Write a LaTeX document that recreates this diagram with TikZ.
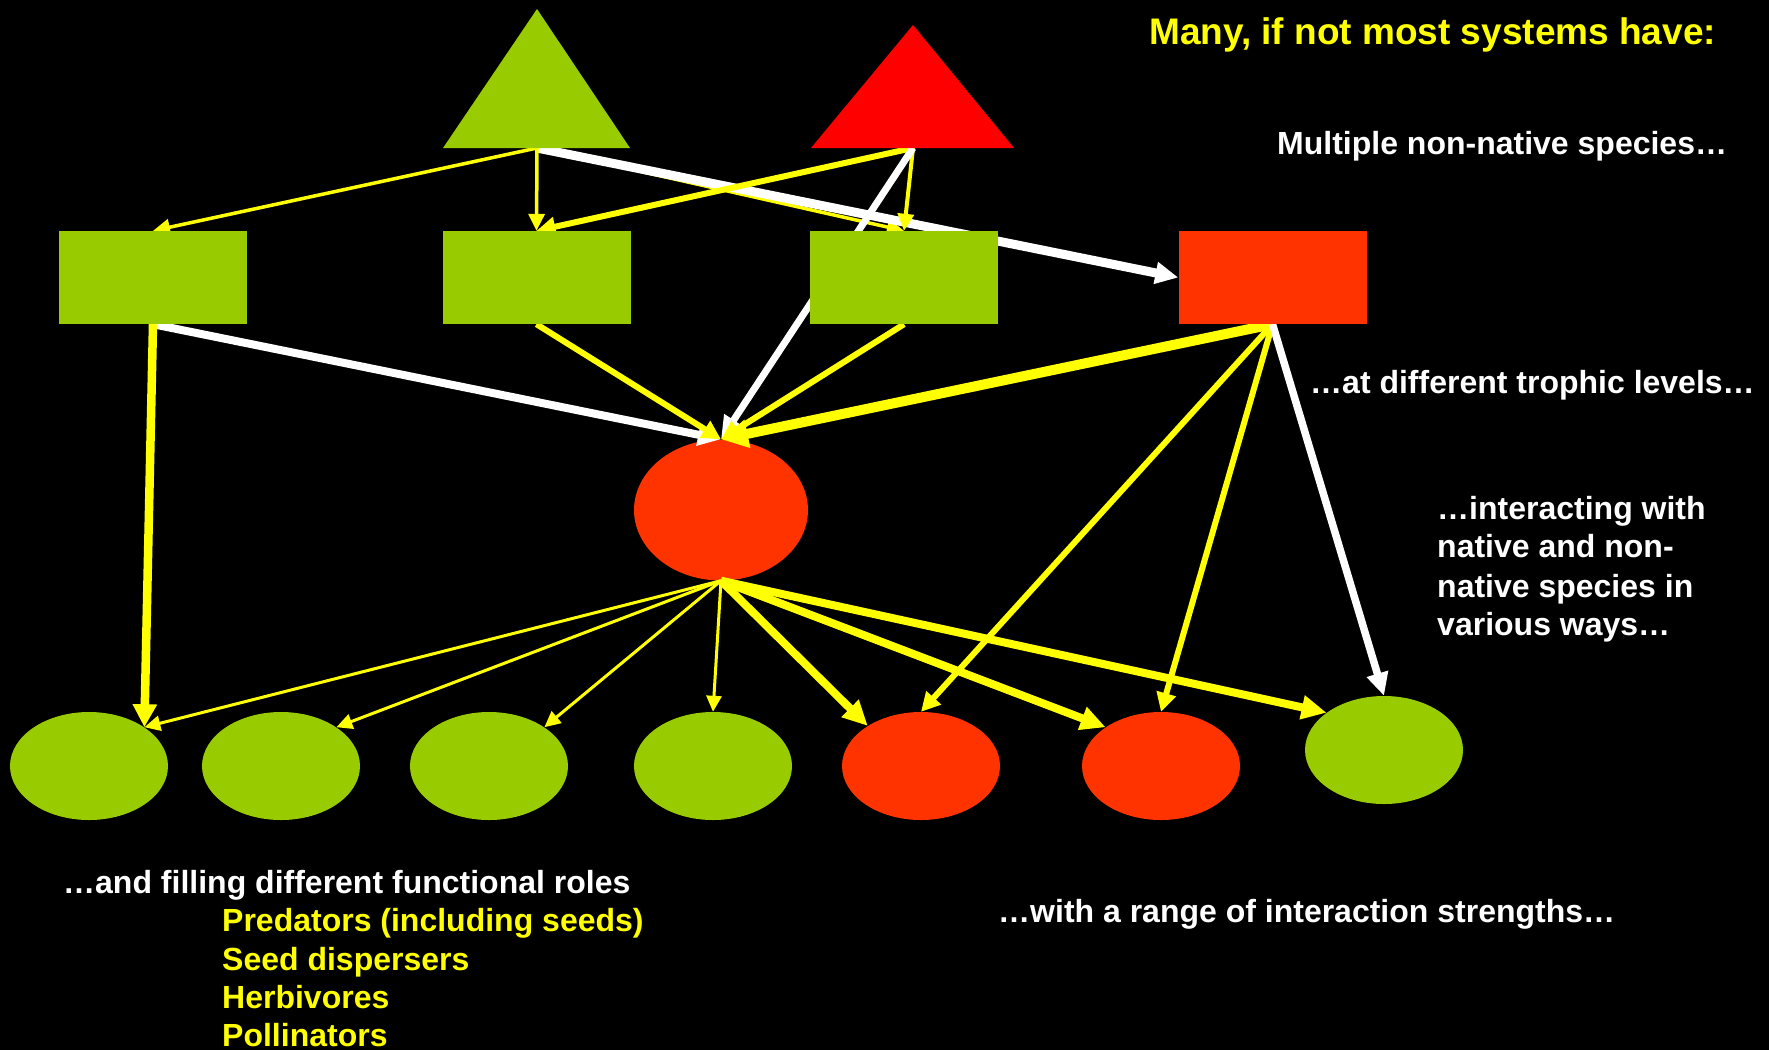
\documentclass[tikz,border=0pt]{standalone}
\usepackage{fontspec}
\setmainfont{Liberation Sans}
\usetikzlibrary{arrows.meta,shapes.geometric}
\definecolor{lgreen}{HTML}{99CC00}
\definecolor{ored}{HTML}{FF3300}
\definecolor{pred}{HTML}{FF0000}
\definecolor{yel}{HTML}{FFFF00}
\pgfdeclarelayer{fg}
\pgfsetlayers{main,fg}
\tikzset{
  box/.style={rectangle,draw=none,inner sep=0pt,minimum width=188pt,minimum height=93pt},
  bigov/.style={ellipse,draw=none,fill=ored,inner sep=0pt,minimum width=174pt,minimum height=141pt},
  sp/.style={ellipse,draw=none,inner sep=0pt,minimum width=158pt,minimum height=108pt},
  ythin/.style={draw=yel,line width=3pt,-{Triangle[length=16pt,width=15pt]}},
  ysm/.style={draw=yel,line width=4pt,-{Triangle[length=17pt,width=16pt]}},
  ymed/.style={draw=yel,line width=6pt,-{Triangle[length=19pt,width=19pt]}},
  ythick/.style={draw=yel,line width=8pt,-{Triangle[length=25pt,width=23pt]}},
  yvthick/.style={draw=yel,line width=10pt,-{Triangle[length=27pt,width=27pt]}},
  wline/.style={draw=white,line width=8pt,-{Triangle[length=23pt,width=21pt]}},
  txt/.style={anchor=base west,inner sep=0pt,font=\bfseries\fontsize{32}{38.5}\selectfont,text=white},
}
\begin{document}
\begin{tikzpicture}[x=1pt,y=-1pt]
\fill[black] (0,0) rectangle (1769,1050);
\useasboundingbox (0,0) rectangle (1769,1050);

% ellipses (under the connectors)
\node[bigov] (ov) at (721,510) {};
\node[sp,fill=lgreen] (e1) at (89,766) {};
\node[sp,fill=lgreen] (e2) at (281,766) {};
\node[sp,fill=lgreen] (e3) at (489,766) {};
\node[sp,fill=lgreen] (e4) at (713,766) {};
\node[sp,fill=ored] (e5) at (921,766) {};
\node[sp,fill=ored] (e6) at (1161,766) {};
\node[sp,fill=lgreen] (e7) at (1384,750) {};

% rectangles and triangles (on top)
\begin{pgfonlayer}{fg}
\node[box,fill=lgreen] (r1) at (153,277.5) {};
\node[box,fill=lgreen] (r2) at (536.5,277.5) {};
\node[box,fill=lgreen] (r3) at (904,277.5) {};
\node[box,fill=ored] (r4) at (1272.5,277.5) {};
\fill[lgreen] (537,9) -- (630,148) -- (443,148) -- cycle;
\fill[pred] (913,25) -- (1014,148) -- (811,148) -- cycle;
\end{pgfonlayer}
\coordinate (gt) at (537,148);
\coordinate (rt) at (913,148);

% connectors
\draw[ysm,line width=3.5pt] (gt) -- (r3.north);
\draw[wline,line width=9pt] (gt) -- (r4.west);
\draw[ysm,line width=3.5pt] (gt) -- (r1.north);
\draw[ysm,line width=3.5pt] (gt) -- (r2.north);
\draw[ymed] (rt) -- (r2.north);
\draw[ysm] (rt) -- (r3.north);
\draw[wline,line width=7pt] (rt) -- (ov.north);

\draw[wline] (r1.south) -- (ov.north);
\draw[ythick,line width=8.5pt,-{Triangle[length=23pt,width=23pt]}] (r1.south) -- (e1.35);
\draw[ymed] (r2.south) -- (ov.north);
\draw[ymed] (r3.south) -- (ov.north);
\draw[yvthick] (r4.south) -- (ov.north);
\draw[ymed] (r4.south) -- (e5.north);
\draw[ymed] (r4.south) -- (e6.north);
\draw[wline,line width=7.5pt] (r4.south) -- (e7.north);

\draw[ythin] (ov.south) -- (e1.35);
\draw[ythin] (ov.south) -- (e2.35);
\draw[ythin] (ov.south) -- (e3.35);
\draw[ythin] (ov.south) -- (e4.north);
\draw[ythick] (ov.south) -- (e5.143);
\draw[ythick] (ov.south) -- (e6.145);
\draw[ythick] (ov.south) -- (e7.147);

% texts
\node[txt,text=yel,font=\bfseries\fontsize{37}{40}\selectfont] (t0) at (1149,44) {Many, if not most systems have:};
\node[txt] (t1) at (1277,154) {Multiple non-native species…};
\node[txt] (t2) at (1310,393) {…at different trophic levels…};
\node[txt] (t3) at (1437,519) {…interacting with};
\node[txt] (t4) at (1437,557) {native and non-};
\node[txt] (t5) at (1437,597) {native species in};
\node[txt] (t6) at (1437,635) {various ways…};
\node[txt] (t7) at (998,922) {…with a range of interaction strengths…};
\node[txt] (t8) at (63,893) {…and filling different functional roles};
\node[txt,text=yel] (t9) at (222,931) {Predators (including seeds)};
\node[txt,text=yel] (t10) at (222,970) {Seed dispersers};
\node[txt,text=yel] (t11) at (222,1008) {Herbivores};
\node[txt,text=yel] (t12) at (222,1046) {Pollinators};
\end{tikzpicture}
\end{document}
